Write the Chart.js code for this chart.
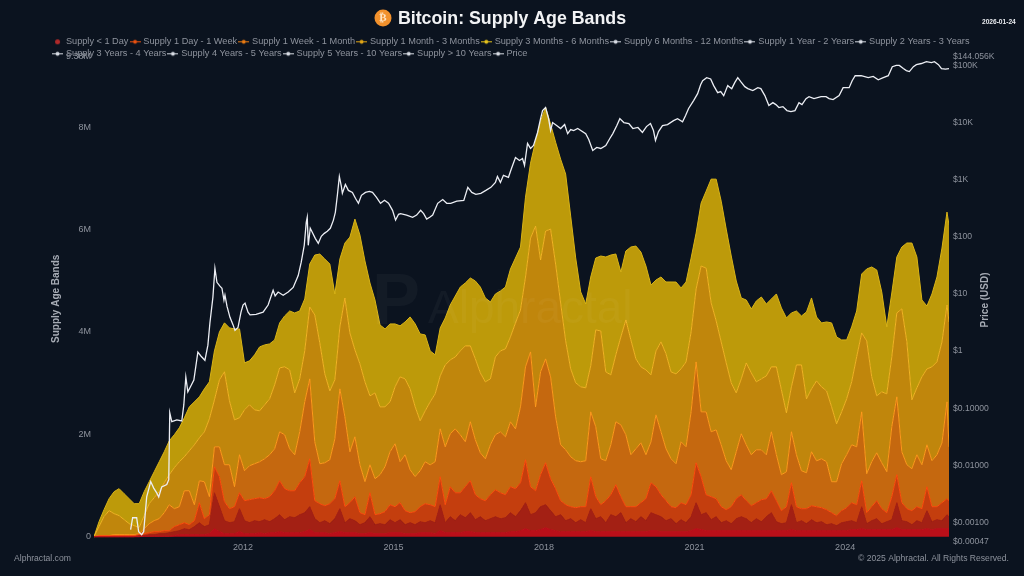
<!DOCTYPE html>
<html>
<head>
<meta charset="utf-8">
<title>Bitcoin: Supply Age Bands</title>
<script src="https://cdn.jsdelivr.net/npm/chart.js@4"></script>
<style>
    html, body { margin: 0; padding: 0; background: #0b131f; }
    canvas { display: block; }
</style>
</head>
<body>
<canvas id="chart" width="1024" height="576"></canvas>
<script>
// Dates as decimal years, one row = one year
const bandDates = [
    2009.03,2009.13,2009.23,2009.33,2009.43,2009.53,2009.63,2009.73,2009.83,2009.93,
    2010.03,2010.13,2010.23,2010.33,2010.43,2010.53,2010.63,2010.73,2010.83,2010.93,
    2011.03,2011.13,2011.23,2011.33,2011.43,2011.53,2011.63,2011.73,2011.83,2011.93,
    2012.03,2012.13,2012.23,2012.33,2012.43,2012.53,2012.63,2012.73,2012.83,2012.93,
    2013.03,2013.13,2013.23,2013.33,2013.43,2013.53,2013.63,2013.73,2013.83,2013.93,
    2014.03,2014.13,2014.23,2014.33,2014.43,2014.53,2014.63,2014.73,2014.83,2014.93,
    2015.03,2015.13,2015.23,2015.33,2015.43,2015.53,2015.63,2015.73,2015.83,2015.93,
    2016.03,2016.13,2016.23,2016.33,2016.43,2016.53,2016.63,2016.73,2016.83,2016.93,
    2017.03,2017.13,2017.23,2017.33,2017.43,2017.53,2017.63,2017.73,2017.83,2017.93,
    2018.03,2018.13,2018.23,2018.33,2018.43,2018.53,2018.63,2018.73,2018.83,2018.93,
    2019.03,2019.13,2019.23,2019.33,2019.43,2019.53,2019.63,2019.73,2019.83,2019.93,
    2020.03,2020.13,2020.23,2020.33,2020.43,2020.53,2020.63,2020.73,2020.83,2020.93,
    2021.03,2021.13,2021.23,2021.33,2021.43,2021.53,2021.63,2021.73,2021.83,2021.93,
    2022.03,2022.13,2022.23,2022.33,2022.43,2022.53,2022.63,2022.73,2022.83,2022.93,
    2023.03,2023.13,2023.23,2023.33,2023.43,2023.53,2023.63,2023.73,2023.83,2023.93,
    2024.03,2024.13,2024.23,2024.33,2024.43,2024.53,2024.63,2024.73,2024.83,2024.93,
    2025.03,2025.13,2025.23,2025.33,2025.43,2025.53,2025.63,2025.73,2025.83,2025.93,
    2026.03,2026.07
];

// Supply per age band, thousands of BTC
const supplyUnder1Day = [
    0,0,0,0,0,0,0,0,0,0,
    10,10,10,10,10,10,20,39,39,39,
    39,39,39,59,156,98,59,59,59,98,
    59,59,59,78,59,78,78,98,78,78,
    78,78,98,137,78,78,78,59,78,98,
    78,78,78,59,59,78,59,59,59,78,
    78,78,59,59,59,78,78,78,59,117,
    78,78,78,78,98,98,78,78,78,78,
    78,78,78,98,98,117,156,117,117,137,
    176,137,117,98,98,98,98,98,98,117,
    98,98,98,98,98,98,98,98,98,98,
    98,117,117,98,98,98,98,98,98,117,
    156,137,117,117,117,117,117,117,117,117,
    117,117,117,117,117,117,117,117,117,137,
    117,117,117,117,117,117,117,117,117,117,
    117,137,137,156,137,137,137,137,137,137,
    176,137,137,137,137,137,156,137,156,156,
    156,156
];
const supply1DayTo1Week = [
    0,0,0,0,0,0,0,0,0,20,
    10,29,29,49,49,68,78,78,117,98,
    156,234,156,176,702,488,254,215,234,449,
    254,215,254,215,273,215,273,332,254,312,
    293,351,371,449,273,195,234,195,273,449,
    195,273,234,176,215,312,176,195,176,254,
    195,254,176,215,176,215,195,234,215,507,
    195,312,234,351,273,371,254,312,234,273,
    312,273,293,371,293,390,507,312,351,449,
    449,371,273,332,215,254,176,234,176,429,
    254,293,176,332,293,371,176,254,195,293,
    215,351,312,293,215,254,156,234,176,273,
    507,293,351,215,273,156,195,137,234,273,
    234,156,234,176,273,351,176,137,156,488,
    156,195,137,215,156,176,117,137,98,156,
    176,176,137,429,117,176,215,117,156,195,
    488,176,156,98,176,137,351,156,176,156,
    273,234
];
const supply1WeekTo1Month = [
    0,20,20,20,20,20,20,20,20,20,
    39,39,59,39,59,39,98,117,117,98,
    117,390,156,195,507,585,371,273,293,312,
    390,449,429,468,410,488,546,663,605,507,
    527,624,702,936,351,371,293,390,390,546,
    312,312,468,234,156,468,195,195,254,293,
    312,332,273,195,254,293,371,312,312,546,
    351,585,546,429,605,624,488,351,390,468,
    527,507,449,507,546,546,839,546,429,624,
    819,624,546,273,312,234,293,254,312,624,
    429,234,429,390,624,312,312,234,293,273,
    429,585,546,429,390,234,312,332,351,429,
    780,741,351,449,351,312,215,332,390,429,
    351,332,312,429,351,429,410,254,312,429,
    312,234,293,273,312,273,293,215,195,234,
    273,351,351,507,215,273,351,293,176,449,
    546,351,254,273,273,273,468,293,254,351,
    312,312
];
const supply1MonthTo3Months = [
    0,0,0,0,20,20,20,20,20,20,
    98,176,215,254,351,507,351,351,624,663,
    312,429,722,351,390,585,722,858,390,741,
    585,663,683,702,780,819,819,956,1053,819,
    702,995,1463,1560,1151,780,839,858,1170,1794,
    1755,995,1170,936,644,546,702,761,878,1034,
    1229,800,1092,839,683,702,819,780,878,936,
    1131,1034,1248,1131,878,1151,1073,897,819,975,
    1073,1190,1131,1268,1170,1482,1814,2633,1638,2009,
    2028,1989,1404,1092,1073,975,917,878,897,1268,
    1365,897,780,975,1229,1404,1404,1014,1131,1170,
    858,800,1404,1229,1014,936,858,1190,1131,1619,
    1970,1268,1619,1268,1346,1209,956,722,917,1190,
    1092,995,1034,975,858,1151,897,702,683,995,
    1014,741,702,1053,897,956,936,605,663,917,
    1034,1131,1131,1346,761,878,936,897,800,1365,
    1521,995,858,819,1014,858,819,897,1014,1170,
    1892,1053
];
const supply3MonthsTo6Months = [
    0,176,371,488,410,371,293,215,176,117,
    254,390,449,527,585,585,800,878,663,780,
    1170,839,975,1521,917,1307,1814,1248,1307,722,
    1190,1190,1053,995,1053,1092,1248,1248,1326,1541,
    1209,1034,995,1404,2477,2360,1736,1346,1151,1209,
    2321,2321,1697,1970,1950,1346,1677,1326,1170,975,
    1112,1658,1482,1580,1365,975,995,1229,1326,1034,
    1599,1443,1404,1638,1872,1482,1580,1560,1502,1287,
    1521,1580,1716,1658,2067,1892,1755,2223,3530,2184,
    2496,2886,2984,2769,2126,1716,1521,1463,1424,897,
    1892,2496,1736,1365,1307,1716,2243,2243,1755,1482,
    1658,1307,1248,1755,1853,1697,1755,1424,1658,1560,
    1424,2847,2808,2516,2126,2009,1911,1697,1151,1073,
    1599,1599,1326,1385,1541,1268,1716,1658,1151,878,
    1755,2067,1443,1229,1560,1404,1385,1463,1131,1014,
    1092,1229,1755,1541,2594,1658,1112,1385,1521,1365,
    1638,2789,2399,1346,1307,1716,1482,1833,1814,1970,
    1892,2438
];
const supply6MonthsTo12Months = [
    0,98,137,234,429,527,507,488,429,468,
    468,429,507,585,605,663,644,663,761,858,
    839,800,839,722,956,936,956,1424,1775,1736,
    917,858,1073,1248,1170,1073,878,878,995,1151,
    1560,1326,1014,839,1170,1736,2243,2477,1677,1326,
    1073,1872,2555,2516,2360,2204,1814,1599,1521,1521,
    1229,995,1112,1404,1619,1697,1482,995,761,936,
    917,1073,1190,1248,1229,1326,1521,1677,1638,1502,
    1229,1170,1209,1326,1268,1229,1560,1463,1658,2711,
    2418,2048,2379,2808,3257,2984,2438,1853,1638,1736,
    1404,1463,2243,2340,1970,1268,1346,1814,2204,2243,
    2028,1755,1385,1268,1404,1755,1794,1580,1560,1443,
    1092,1229,1502,2418,2769,2750,2613,2477,2184,1580,
    1229,1248,1580,1599,1404,1326,1424,1599,1853,1443,
    1053,956,1697,1775,1248,1248,1346,1638,1697,1404,
    1151,1073,897,1151,1404,2145,2457,1950,1307,1248,
    1092,1209,1931,3062,2555,1502,1229,1424,1658,1833,
    1814,1892
];

// Price has its own, uneven dates
const priceDates = [
    2009.76,2009.80,2009.88,2009.92,2009.98,2010.02,2010.08,2010.16,2010.22,2010.28,
    2010.32,2010.38,2010.48,2010.52,2010.54,2010.58,2010.68,2010.78,2010.82,2010.86,
    2010.90,2010.96,2011.02,2011.10,2011.16,2011.24,2011.30,2011.34,2011.40,2011.44,
    2011.48,2011.54,2011.58,2011.62,2011.64,2011.68,2011.74,2011.80,2011.84,2011.90,
    2011.96,2012.00,2012.04,2012.10,2012.14,2012.26,2012.40,2012.50,2012.60,2012.64,
    2012.70,2012.80,2012.90,2013.00,2013.10,2013.16,2013.22,2013.26,2013.28,2013.30,
    2013.34,2013.38,2013.44,2013.50,2013.56,2013.62,2013.68,2013.74,2013.80,2013.84,
    2013.88,2013.92,2013.96,2013.98,2014.04,2014.10,2014.18,2014.24,2014.30,2014.36,
    2014.44,2014.52,2014.58,2014.66,2014.74,2014.82,2014.90,2014.98,2015.04,2015.10,
    2015.14,2015.26,2015.38,2015.46,2015.54,2015.60,2015.66,2015.72,2015.78,2015.88,
    2015.98,2016.06,2016.14,2016.26,2016.40,2016.48,2016.56,2016.64,2016.74,2016.84,
    2016.94,2017.03,2017.07,2017.13,2017.19,2017.29,2017.35,2017.43,2017.51,2017.57,
    2017.61,2017.67,2017.73,2017.79,2017.87,2017.93,2017.97,2018.03,2018.09,2018.13,
    2018.17,2018.25,2018.33,2018.41,2018.47,2018.53,2018.59,2018.67,2018.83,2018.89,
    2018.97,2019.05,2019.13,2019.23,2019.31,2019.37,2019.45,2019.51,2019.59,2019.69,
    2019.77,2019.87,2019.96,2020.04,2020.12,2020.18,2020.22,2020.28,2020.36,2020.46,
    2020.58,2020.66,2020.76,2020.82,2020.88,2020.98,2021.06,2021.12,2021.16,2021.24,
    2021.32,2021.38,2021.46,2021.52,2021.58,2021.66,2021.74,2021.80,2021.86,2021.92,
    2022.00,2022.06,2022.16,2022.26,2022.32,2022.40,2022.48,2022.56,2022.62,2022.68,
    2022.76,2022.84,2022.92,2023.00,2023.08,2023.14,2023.22,2023.28,2023.38,2023.52,
    2023.62,2023.68,2023.76,2023.88,2023.96,2024.08,2024.14,2024.20,2024.32,2024.46,
    2024.56,2024.66,2024.76,2024.86,2024.94,2025.02,2025.08,2025.16,2025.22,2025.28,
    2025.36,2025.42,2025.52,2025.62,2025.72,2025.78,2025.86,2025.92,2026.00,2026.07
];
const priceValues = [
    0.00075,0.00121,0.00121,0.00069,0.00061,0.00069,0.0028,0.0052,0.0040,0.0033,
    0.0028,0.0042,0.0046,0.0056,0.083,0.058,0.0625,0.06,0.114,0.352,
    0.193,0.245,0.31,0.96,0.82,0.69,1.27,3.1,8.8,28,
    16,13.7,12.6,7.8,9.5,6.1,3.9,2.9,2.3,2.6,
    4.8,6.4,6.9,4.8,4.3,4.4,4.8,6.4,11.6,9.2,
    10.8,9.5,10.8,13,21,36,71,179,219,71,
    141,120,94,77,102,115,125,141,194,268,
    530,1140,763,578,826,649,599,472,386,532,
    599,625,599,490,386,435,386,291,196,248,
    255,240,220,240,291,255,204,220,240,386,
    450,386,386,420,435,735,599,555,578,649,
    735,896,1140,896,1190,1100,1570,2450,2170,2350,
    1780,4300,3520,3970,6700,11700,16200,18300,11700,7250,
    10000,8870,7860,9230,6410,7540,7250,7860,6410,5060,
    3250,3660,3520,3970,5260,6410,8870,11700,10000,9600,
    7860,8200,6700,8500,9600,7250,4850,6950,8870,9230,
    10800,11700,10300,13300,17600,24200,32000,46000,54000,61000,
    58000,44300,33400,34800,29600,44300,39200,50000,61000,52000,
    42500,39200,36200,40800,39200,29600,19800,22300,20600,18300,
    19000,16200,15600,16200,22300,20600,26200,28400,26200,28400,
    28400,26200,25200,29600,40800,40800,54000,66000,66000,61000,
    64000,56000,61000,66000,95000,100000,100000,88000,81000,78000,
    95000,103000,108000,116000,112000,116000,103000,88000,86000,88000
];

// Tick labels
const yearTicks = [2012, 2015, 2018, 2021, 2024];
const supplyTicks = [0, 2000, 4000, 6000, 8000, 9380];
const priceTicks = [0.00047, 0.001, 0.01, 0.1, 1, 10, 100, 1000, 10000, 100000, 144056];
const priceTickLabels = ['$0.00047', '$0.00100', '$0.01000', '$0.10000', '$1', '$10', '$100', '$1K', '$10K', '$100K', '$144.056K'];

const textGrey = '#8e939d';
const fontName = '"Liberation Sans", Arial, sans-serif';

// Small line + dot marker for the legend
function legendMarker(color, withLine) {
    const c = document.createElement('canvas');
    c.width = 11;
    c.height = 7;
    const ctx = c.getContext('2d');
    ctx.strokeStyle = color;
    ctx.fillStyle = color;
    if (withLine) {
        ctx.lineWidth = 1;
        ctx.beginPath();
        ctx.moveTo(0, 3.5);
        ctx.lineTo(11, 3.5);
        ctx.stroke();
    }
    ctx.beginPath();
    ctx.arc(5.5, 3.5, withLine ? 2 : 2.5, 0, Math.PI * 2);
    ctx.fill();
    return c;
}

function bandDataset(label, values, fillColor, lineColor, markerColor, first) {
    return {
        label: label,
        data: bandDates.map((d, i) => ({ x: d, y: values[i] })),
        yAxisID: 'y',
        backgroundColor: fillColor,
        borderColor: lineColor,
        borderWidth: 1,
        pointRadius: 0,
        tension: 0,
        fill: first ? 'origin' : '-1',
        marker: legendMarker(markerColor, !first)
    };
}

// Older bands are switched off in the original, they only show in the legend
function legendOnlyDataset(label) {
    return {
        label: label,
        data: [],
        yAxisID: 'y',
        pointRadius: 0,
        fill: false,
        marker: legendMarker('#d8dce4', true)
    };
}

const datasets = [
    bandDataset('Supply < 1 Day', supplyUnder1Day, '#b90f19', '#c2121c', '#b02a2a', true),
    bandDataset('Supply 1 Day - 1 Week', supply1DayTo1Week, '#a32014', '#a82214', '#e8500f', false),
    bandDataset('Supply 1 Week - 1 Month', supply1WeekTo1Month, '#c43e0e', '#ff4e0e', '#e87a12', false),
    bandDataset('Supply 1 Month - 3 Months', supply1MonthTo3Months, '#c5680f', '#ff9a1c', '#e0a516', false),
    bandDataset('Supply 3 Months - 6 Months', supply3MonthsTo6Months, '#c0860c', '#f2b424', '#e6c21c', false),
    bandDataset('Supply 6 Months - 12 Months', supply6MonthsTo12Months, '#bd9a0a', '#d9b417', '#d8dce4', false),
    legendOnlyDataset('Supply 1 Year - 2 Years'),
    legendOnlyDataset('Supply 2 Years - 3 Years'),
    legendOnlyDataset('Supply 3 Years - 4 Years'),
    legendOnlyDataset('Supply 4 Years - 5 Years'),
    legendOnlyDataset('Supply 5 Years - 10 Years'),
    legendOnlyDataset('Supply > 10 Years'),
    {
        label: 'Price',
        data: priceDates.map((d, i) => ({ x: d, y: priceValues[i] })),
        yAxisID: 'yPrice',
        borderColor: '#eceef4',
        borderWidth: 1.3,
        pointRadius: 0,
        tension: 0,
        fill: false,
        order: -1,
        marker: legendMarker('#d8dce4', true)
    }
];

// Background, watermark, title icon and the small captions
const decorations = {
    id: 'decorations',
    afterLayout(chart) {
        // the legend sits a little into the plot's top edge in the original
        chart.legend.left = 51;
        chart.legend.right = 985;
        chart.legend.top += 12;
        chart.legend.bottom += 12;
    },
    beforeDraw(chart) {
        const ctx = chart.ctx;
        ctx.save();
        ctx.fillStyle = '#0b131f';
        ctx.fillRect(0, 0, chart.width, chart.height);
        ctx.restore();
    },
    afterDatasetsDraw(chart) {
        const ctx = chart.ctx;
        ctx.save();
        ctx.fillStyle = 'rgba(255,255,255,0.035)';
        ctx.textBaseline = 'middle';
        ctx.font = '46px ' + fontName;
        ctx.fillText('Alphractal', 428, 310);
        ctx.font = 'bold 72px ' + fontName;
        ctx.fillText('P', 372, 304);
        ctx.restore();
    },
    afterDraw(chart) {
        const ctx = chart.ctx;
        ctx.save();
        ctx.fillStyle = '#f2912c';
        ctx.beginPath();
        ctx.arc(383, 18, 8.5, 0, Math.PI * 2);
        ctx.fill();
        ctx.fillStyle = '#ffe3c2';
        ctx.textAlign = 'center';
        ctx.textBaseline = 'middle';
        ctx.font = 'bold 11px "DejaVu Sans"';
        ctx.fillText('₿', 383, 18.5);

        ctx.fillStyle = '#e8eaee';
        ctx.textAlign = 'left';
        ctx.font = 'bold 6.6px ' + fontName;
        ctx.fillText('2026-01-24', 982, 22);

        ctx.fillStyle = textGrey;
        ctx.font = '8.6px ' + fontName;
        ctx.fillText('Alphractal.com', 14, 558.5);
        ctx.textAlign = 'right';
        ctx.fillText('© 2025 Alphractal. All Rights Reserved.', 1009, 558.5);

        // right axis title reads bottom to top here, the library would flip it
        ctx.translate(985, 300);
        ctx.rotate(-Math.PI / 2);
        ctx.textAlign = 'center';
        ctx.fillStyle = '#a6abb4';
        ctx.font = 'bold 10px ' + fontName;
        ctx.fillText('Price (USD)', 0, 0);
        ctx.restore();
    }
};

new Chart(document.getElementById('chart').getContext('2d'), {
    type: 'line',
    data: { datasets: datasets },
    plugins: [decorations],
    options: {
        responsive: false,
        animation: false,
        devicePixelRatio: 1,
        layout: { padding: { left: 0, right: 0, top: 0, bottom: 22 } },
        plugins: {
            tooltip: { enabled: false },
            title: {
                display: true,
                text: 'Bitcoin: Supply Age Bands',
                color: '#f2f3f5',
                font: { family: fontName, size: 17.8, weight: 'bold' },
                padding: { top: 8, bottom: -7 }
            },
            legend: {
                display: true,
                position: 'top',
                align: 'start',
                labels: {
                    usePointStyle: true,
                    pointStyleWidth: 7.5,
                    padding: 2.8,
                    color: textGrey,
                    font: { family: fontName, size: 9.2 },
                    generateLabels(chart) {
                        return chart.data.datasets.map((ds, i) => ({
                            text: ds.label,
                            pointStyle: ds.marker,
                            fontColor: textGrey,
                            lineWidth: 0,
                            datasetIndex: i
                        }));
                    }
                }
            }
        },
        scales: {
            x: {
                type: 'linear',
                min: 2009.03,
                max: 2026.07,
                afterBuildTicks(scale) {
                    scale.ticks = yearTicks.map(v => ({ value: v }));
                },
                grid: { display: false, drawTicks: false },
                border: { display: false },
                ticks: {
                    autoSkip: false,
                    maxRotation: 0,
                    padding: 1,
                    color: textGrey,
                    font: { family: fontName, size: 9 },
                    callback: v => String(v)
                }
            },
            y: {
                position: 'left',
                stacked: true,
                min: -88,
                max: 9380,
                afterBuildTicks(scale) {
                    scale.ticks = supplyTicks.map(v => ({ value: v }));
                },
                afterFit(scale) {
                    scale.width = 94;
                },
                grid: { display: false, drawTicks: false },
                border: { display: false },
                title: {
                    display: true,
                    text: 'Supply Age Bands',
                    color: '#a6abb4',
                    font: { family: fontName, size: 10, weight: 'bold' },
                    padding: { top: 50, bottom: 0 }
                },
                ticks: {
                    autoSkip: false,
                    padding: 3,
                    color: textGrey,
                    font: { family: fontName, size: 9 },
                    callback: v => {
                        if (v === 0) return '0';
                        return v === 9380 ? (v / 1000).toFixed(2) + 'M' : (v / 1000) + 'M';
                    }
                }
            },
            yPrice: {
                type: 'logarithmic',
                position: 'right',
                bounds: 'data',
                min: 0.00047,
                max: 144056,
                afterBuildTicks(scale) {
                    scale.ticks = priceTicks.map(v => ({ value: v }));
                },
                afterFit(scale) {
                    scale.width = 75;
                },
                grid: { display: false, drawTicks: false },
                border: { display: false },
                ticks: {
                    autoSkip: false,
                    padding: 4,
                    color: textGrey,
                    font: { family: fontName, size: 8.6 },
                    callback: v => priceTickLabels[priceTicks.indexOf(v)]
                }
            }
        }
    }
});
</script>
</body>
</html>
